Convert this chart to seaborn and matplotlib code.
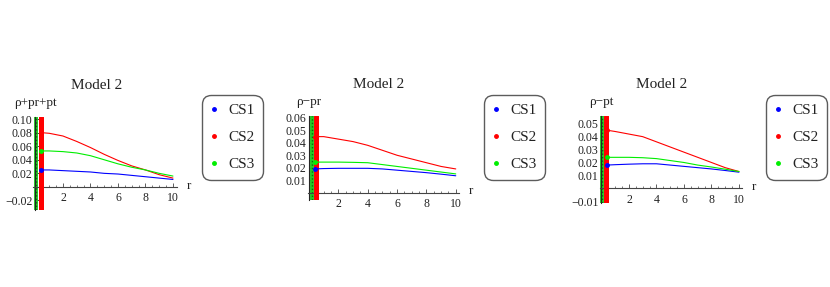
import matplotlib
matplotlib.use("Agg")
import matplotlib.pyplot as plt
import matplotlib.transforms as mtransforms
from matplotlib.lines import Line2D
from matplotlib.ticker import MultipleLocator, FixedLocator
import pandas as pd
import seaborn as sns

# radial coordinate where the curves are sampled
r = [0.4, 1, 2, 3, 4, 5, 6, 7, 8, 9, 10]

series_names = ["CS1", "CS2", "CS3"]
titles = ["Model 2", "Model 2", "Model 2"]
ylabels = ["\u03c1+pr+pt", "\u03c1\u2212pr", "\u03c1\u2212pt"]

# rho + pr + pt
p1_cs1 = [0.025, 0.025, 0.024, 0.023, 0.022, 0.020, 0.019, 0.017, 0.015, 0.013, 0.011]
p1_cs2 = [0.080, 0.079, 0.075, 0.067, 0.058, 0.048, 0.039, 0.031, 0.025, 0.018, 0.013]
p1_cs3 = [0.053, 0.053, 0.052, 0.050, 0.046, 0.040, 0.034, 0.029, 0.025, 0.020, 0.016]

# rho - pr
p2_cs1 = [0.019, 0.0193, 0.0195, 0.0195, 0.0195, 0.019, 0.018, 0.017, 0.016, 0.0148, 0.0135]
p2_cs2 = [0.045, 0.045, 0.043, 0.041, 0.038, 0.034, 0.030, 0.027, 0.024, 0.021, 0.019]
p2_cs3 = [0.0245, 0.0245, 0.0245, 0.0243, 0.024, 0.0225, 0.021, 0.0195, 0.018, 0.0165, 0.015]

# rho - pt
p3_cs1 = [0.018, 0.0183, 0.0187, 0.019, 0.019, 0.018, 0.017, 0.016, 0.015, 0.0138, 0.0125]
p3_cs2 = [0.045, 0.044, 0.042, 0.040, 0.036, 0.032, 0.028, 0.024, 0.020, 0.016, 0.013]
p3_cs3 = [0.024, 0.024, 0.024, 0.0237, 0.023, 0.0215, 0.020, 0.018, 0.0165, 0.0148, 0.013]

# divergent spikes near r = 0 (drawn as thick vertical strokes)
green_spike_r = [0.02, 0.17, 0.07]
red_spike_r = [0.37, 0.45, 0.36]

yticks = [[-0.02, 0.02, 0.04, 0.06, 0.08, 0.10],
          [0.01, 0.02, 0.03, 0.04, 0.05, 0.06],
          [-0.01, 0.01, 0.02, 0.03, 0.04, 0.05]]
ytick_labels = [["\u22120.02", "0.02", "0.04", "0.06", "0.08", "0.10"],
                ["0.01", "0.02", "0.03", "0.04", "0.05", "0.06"],
                ["\u22120.01", "0.01", "0.02", "0.03", "0.04", "0.05"]]
xticks = [2, 4, 6, 8, 10]

sns.set_style("white")
plt.rcParams["font.family"] = ["Liberation Serif", "DejaVu Serif"]

colors = {"CS1": "#0000ff", "CS2": "#ff0000", "CS3": "#00ee00"}

W, H = 830, 287
fig = plt.figure(figsize=(W / 100, H / 100), dpi=100)

# pixel boxes: left, top, right, bottom
boxes = [(33.4, 117, 177.1, 210), (308.3, 116, 458.7, 200), (600.1, 116, 742.4, 203.3)]
xlims = [(-0.15, 10.3), (-0.05, 10.2), (-0.1, 10.25)]
ylims = [(-0.034, 0.103), (-0.006, 0.0616), (-0.0116, 0.056)]
title_x = [0.44, 0.47, 0.435]
legend_pos = [(202, 95), (484, 95), (766, 95)]

panels = [(p1_cs1, p1_cs2, p1_cs3), (p2_cs1, p2_cs2, p2_cs3), (p3_cs1, p3_cs2, p3_cs3)]

for i, vals in enumerate(panels):
    l, t, rr, b = boxes[i]
    ax = fig.add_axes([l / W, 1 - b / H, (rr - l) / W, (b - t) / H])
    ax.set_xlim(*xlims[i])
    ax.set_ylim(*ylims[i])

    df = pd.DataFrame({
        "r": r * 3,
        "value": vals[0] + vals[1] + vals[2],
        "series": [s for s in series_names for _ in r],
    })

    # spikes near the origin
    ax.axvline(green_spike_r[i], color="#22cc22", lw=2.8, zorder=2)
    ax.axvline(green_spike_r[i], color="#116611", lw=1.0, ls=(0, (1, 1.5)), zorder=2)
    ax.axvline(red_spike_r[i], color="#ff0000", lw=3.6, zorder=3)

    sns.lineplot(data=df, x="r", y="value", hue="series", palette=colors,
                 linewidth=0.8, legend=False, ax=ax, zorder=4)
    for s, v in zip(series_names, vals):
        ax.plot(r[0], v[0], "o", color=colors[s], ms=2.5, zorder=5)

    # Mathematica-style axes crossing at the origin
    for side in ["top", "right"]:
        ax.spines[side].set_visible(False)
    ax.spines["left"].set_position(("data", 0))
    ax.spines["bottom"].set_position(("data", 0))
    ax.spines["left"].set_linewidth(0.8)
    ax.spines["bottom"].set_linewidth(0.8)
    ax.spines["bottom"].set_color("#444444")

    ax.xaxis.set_major_locator(FixedLocator(xticks))
    ax.xaxis.set_minor_locator(MultipleLocator(0.5))
    ax.set_xticklabels([str(x) for x in xticks])
    ax.yaxis.set_major_locator(FixedLocator(yticks[i]))
    ax.set_yticklabels(ytick_labels[i])
    ax.tick_params(axis="x", which="major", direction="in", length=3, width=0.6,
                   labelsize=8.5, pad=4, bottom=True, color="#444444")
    ax.tick_params(axis="x", which="minor", direction="in", length=1.5, width=0.5,
                   bottom=True, color="#444444")
    ax.tick_params(axis="y", direction="in", length=3, width=0.6, labelsize=8.5,
                   pad=2, left=True)
    for lab in ax.get_xticklabels() + ax.get_yticklabels():
        lab.set_color("#222222")
    ax.set_xlabel("")
    ax.set_ylabel("")
    ax.patch.set_alpha(0)

    trans = mtransforms.blended_transform_factory(ax.transAxes, ax.transData)
    ax.annotate("r", xy=(1.0, 0), xycoords=trans, xytext=(7, 1),
                textcoords="offset points", ha="left", va="center",
                fontsize=9.5, color="#222222")
    trans2 = mtransforms.blended_transform_factory(ax.transData, ax.transAxes)
    ax.annotate(ylabels[i], xy=(0, 1), xycoords=trans2, xytext=(0, 6),
                textcoords="offset points", ha="center", va="bottom",
                fontsize=9.5, color="#222222")
    ax.annotate(titles[i], xy=(title_x[i], 1), xycoords="axes fraction",
                xytext=(0, 23), textcoords="offset points", ha="center",
                va="center", fontsize=11, color="#222222")

    handles = [Line2D([], [], marker="o", ls="", color=colors[s], ms=2.5)
               for s in series_names]
    lx, ly = legend_pos[i]
    leg = fig.legend(handles, series_names, loc="upper left",
                     bbox_to_anchor=(lx / W, 1 - ly / H), frameon=True,
                     fancybox=True, fontsize=11, labelspacing=0.88,
                     borderpad=0.55, handlelength=0.5, handletextpad=0.65,
                     borderaxespad=0)
    for txt in leg.get_texts():
        txt.set_color("#222222")
    frame = leg.get_frame()
    frame.set_edgecolor("#333333")
    frame.set_linewidth(1.0)
    frame.set_boxstyle("round", pad=0, rounding_size=0.6)

fig.savefig("out.png", dpi=100)
